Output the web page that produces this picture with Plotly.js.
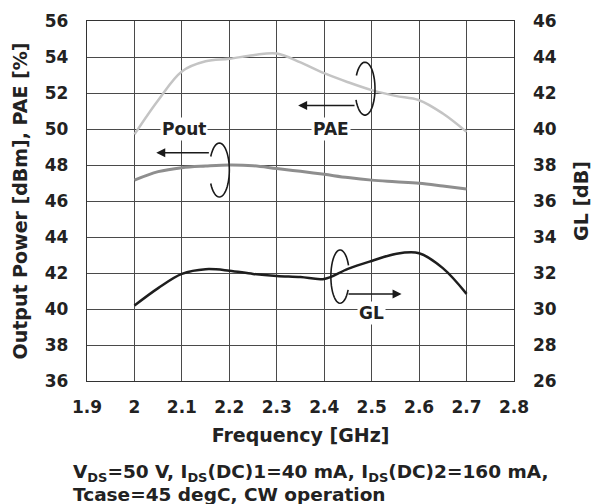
<!DOCTYPE html>
<html><head><meta charset="utf-8">
<script src="https://cdn.plot.ly/plotly-3.0.1.min.js"></script>
<style>body{margin:0;background:#fff}#chart{width:593px;height:504px}</style>
</head><body><div id="chart"></div>
<script>
const freq = [2.0, 2.05, 2.1, 2.15, 2.2, 2.25, 2.3, 2.35, 2.4, 2.45, 2.5, 2.55, 2.6, 2.65, 2.7];
const pae  = [49.7, 51.6, 53.2, 53.76, 53.9, 54.1, 54.2, 53.7, 53.1, 52.6, 52.16, 51.84, 51.6, 50.86, 49.84];
const pout = [47.16, 47.63, 47.85, 47.94, 48.0, 47.96, 47.8, 47.65, 47.48, 47.3, 47.16, 47.07, 46.98, 46.83, 46.67];
const gl   = [30.19, 31.16, 31.95, 32.21, 32.13, 31.95, 31.84, 31.78, 31.67, 32.23, 32.67, 33.06, 33.1, 32.27, 30.84];
const xTicks = [1.9, 2.0, 2.1, 2.2, 2.3, 2.4, 2.5, 2.6, 2.7, 2.8];
const xTickText = ['1.9','2','2.1','2.2','2.3','2.4','2.5','2.6','2.7','2.8'];

const FONT = 'DejaVu Sans, Verdana, sans-serif';

function arcPath(cx, cy, rx, ry, a0, a1) {
  const n = 40; let d = '';
  for (let i = 0; i <= n; i++) {
    const a = (a0 + (a1 - a0) * i / n) * Math.PI / 180;
    const x = cx + rx * Math.cos(a), y = cy + ry * Math.sin(a);
    d += (i ? ' L' : 'M') + x.toFixed(4) + ',' + y.toFixed(4);
  }
  return d;
}

const traces = [
  {x: freq, y: pae, type: 'scatter', mode: 'lines', line: {color: '#c4c4c4', width: 2.5, shape: 'spline'}, yaxis: 'y', name: 'PAE'},
  {x: freq, y: pout, type: 'scatter', mode: 'lines', line: {color: '#8e8e8e', width: 3, shape: 'spline'}, yaxis: 'y', name: 'Pout'},
  {x: freq, y: gl, type: 'scatter', mode: 'lines', line: {color: '#1e1e1e', width: 2.5, shape: 'spline'}, yaxis: 'y2', name: 'GL'}
];

const lineStyle = {color: '#1a1a1a', width: 1.6};
const shapes = [
  {type: 'path', xref: 'x', yref: 'y', path: arcPath(2.179, 47.72, 0.021, 1.5, 150, -150), line: lineStyle},
  {type: 'path', xref: 'x', yref: 'y', path: arcPath(2.486, 52.24, 0.021, 1.47, 150, -155), line: lineStyle},
  {type: 'path', xref: 'x', yref: 'y2', path: arcPath(2.4335, 31.8, 0.0195, 1.48, 25, 330), line: lineStyle}
];

const annFont = {family: FONT, size: 17, color: '#222', weight: 'bold'};
const noteFont = {family: FONT, size: 18.5, color: '#222', weight: 'bold'};
const annotations = [
  {x: 2.046, y: 48.68, ax: 2.16, ay: 48.68, xref: 'x', yref: 'y', axref: 'x', ayref: 'y', text: '', showarrow: true, arrowhead: 2, arrowsize: 1.2, arrowwidth: 1.5, arrowcolor: '#1a1a1a'},
  {x: 2.345, y: 51.31, ax: 2.467, ay: 51.31, xref: 'x', yref: 'y', axref: 'x', ayref: 'y', text: '', showarrow: true, arrowhead: 2, arrowsize: 1.2, arrowwidth: 1.5, arrowcolor: '#1a1a1a'},
  {x: 2.563, y: 30.84, ax: 2.448, ay: 30.84, xref: 'x', yref: 'y2', axref: 'x', ayref: 'y2', text: '', showarrow: true, arrowhead: 2, arrowsize: 1.2, arrowwidth: 1.5, arrowcolor: '#1a1a1a'},
  {x: 2.105, y: 50, xref: 'x', yref: 'y', text: 'Pout', showarrow: false, font: annFont, bgcolor: '#fff', borderpad: 1},
  {x: 2.414, y: 50, xref: 'x', yref: 'y', text: 'PAE', showarrow: false, font: annFont, bgcolor: '#fff', borderpad: 1},
  {x: 2.499, y: 29.77, xref: 'x', yref: 'y2', text: 'GL', showarrow: false, font: annFont, bgcolor: '#fff', borderpad: 1},
  {x: 71, y: 473, xref: 'paper', yref: 'paper', xanchor: 'left', yanchor: 'middle', showarrow: false, align: 'left',
   text: 'V<sub>DS</sub>=50 V, I<sub>DS</sub>(DC)1=40 mA, I<sub>DS</sub>(DC)2=160 mA,', font: noteFont},
  {x: 71, y: 494, xref: 'paper', yref: 'paper', xanchor: 'left', yanchor: 'middle', showarrow: false, align: 'left',
   text: 'Tcase=45 degC, CW operation', font: noteFont}
];
// convert the note lines' pixel positions into paper coordinates
const mTop = 21, mBottom = 123, mLeft = 87, mRight = 79, W = 593, H = 504;
annotations.forEach(a => {
  if (a.yref === 'paper') {
    a.x = (a.x - mLeft) / (W - mLeft - mRight);
    a.y = (H - mBottom - a.y) / (H - mTop - mBottom);
  }
});

const tickFont = {family: FONT, size: 17, color: '#222', weight: 'bold'};
const titleFont = {family: FONT, size: 19, color: '#222', weight: 'bold'};

const layout = {
  width: W, height: H,
  margin: {l: mLeft, r: mRight, t: mTop, b: mBottom},
  paper_bgcolor: '#fff', plot_bgcolor: '#fff',
  showlegend: false,
  font: {family: FONT},
  xaxis: {range: [1.9, 2.8], tickvals: xTicks, ticktext: xTickText, showgrid: true, gridcolor: '#4a4a4a', gridwidth: 1,
          zeroline: false, showline: true, linecolor: '#333', linewidth: 1.2, mirror: true, ticks: '', tickfont: tickFont,
          ticklabelstandoff: 10,
          title: {text: 'Frequency [GHz]', font: titleFont, standoff: 13}},
  yaxis: {range: [36, 56], dtick: 2, showgrid: true, gridcolor: '#4a4a4a', gridwidth: 1, zeroline: false,
          showline: true, linecolor: '#333', linewidth: 1.2, mirror: true, ticks: '', tickfont: tickFont,
          ticklabelstandoff: 14,
          title: {text: 'Output Power [dBm], PAE [%]', font: titleFont, standoff: 12}},
  yaxis2: {range: [26, 46], dtick: 2, overlaying: 'y', side: 'right', showgrid: false, zeroline: false, showline: false,
           ticks: '', tickfont: tickFont, ticklabelstandoff: 18,
           title: {text: 'GL [dB]', font: titleFont, standoff: 18}},
  shapes: shapes,
  annotations: annotations
};

Plotly.newPlot('chart', traces, layout, {displayModeBar: false, staticPlot: true});
</script></body></html>
